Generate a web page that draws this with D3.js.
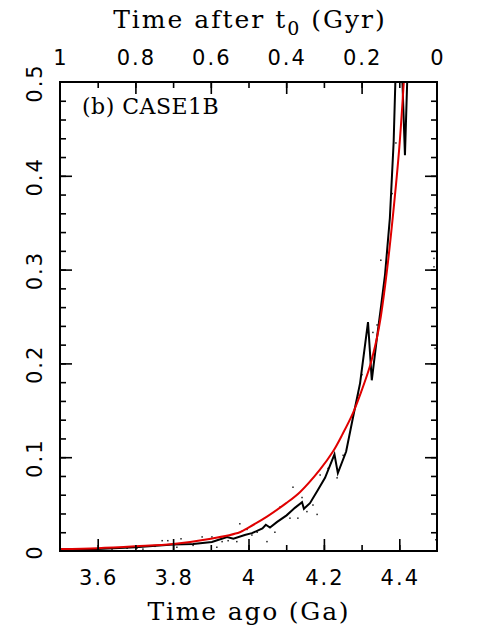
<!DOCTYPE html>
<html>
<head>
<meta charset="utf-8">
<script src="https://cdn.jsdelivr.net/npm/d3@7"></script>
<style>
  body { margin: 0; background: #fff; }
</style>
</head>
<body>
<svg id="chart" width="492" height="630"></svg>
<script>
// red smooth fit (time ago Ga, value)
let fitAgo = [3.5, 3.6, 3.7, 3.8, 3.9, 3.977, 4.0, 4.05, 4.1, 4.137, 4.19, 4.224, 4.25, 4.277, 4.3, 4.322, 4.34, 4.351, 4.367, 4.383, 4.4, 4.412, 4.425];
let fitVal = [0.002, 0.003, 0.005, 0.0075, 0.013, 0.02, 0.025, 0.037, 0.051, 0.063, 0.087, 0.106, 0.125, 0.147, 0.171, 0.197, 0.226, 0.25, 0.298, 0.357, 0.43, 0.5, 0.58];

// black jagged curve
let runAgo = [3.5, 3.6, 3.7, 3.8, 3.853, 3.903, 3.943, 3.96, 3.99, 4.009, 4.037, 4.046, 4.057, 4.076, 4.101, 4.123, 4.142, 4.147, 4.163, 4.184, 4.203, 4.228, 4.237, 4.259, 4.277, 4.296, 4.317, 4.327, 4.34, 4.352, 4.362, 4.375, 4.385, 4.398, 4.415, 4.43];
let runVal = [0.001, 0.002, 0.004, 0.007, 0.0075, 0.0096, 0.015, 0.013, 0.017, 0.019, 0.024, 0.028, 0.025, 0.031, 0.038, 0.046, 0.052, 0.045, 0.051, 0.065, 0.078, 0.103, 0.083, 0.106, 0.142, 0.179, 0.244, 0.182, 0.225, 0.262, 0.294, 0.355, 0.436, 0.62, 0.422, 0.62];

// scattered dots
let dotAgo = [3.638, 3.678, 3.704, 3.72, 3.752, 3.771, 3.786, 3.81, 3.821, 3.853, 3.877, 3.903, 3.916, 3.93, 3.946, 3.969, 3.977, 3.983, 3.996, 4.009, 4.023, 4.049, 4.07, 4.084, 4.11, 4.118, 4.131, 4.142, 4.155, 4.171, 4.182, 4.19, 4.211, 4.235, 4.251, 4.277, 4.29, 4.301, 4.33, 4.341, 4.351, 4.37, 4.381, 4.391, 4.492, 4.492, 4.495, 4.495, 4.497];
let dotVal = [0.002, 0.003, 0.003, 0.002, 0.005, 0.011, 0.011, 0.004, 0.013, 0.006, 0.015, 0.015, 0.004, 0.01, 0.011, 0.01, 0.029, 0.021, 0.023, 0.017, 0.02, 0.01, 0.02, 0.047, 0.035, 0.068, 0.035, 0.057, 0.042, 0.049, 0.039, 0.081, 0.088, 0.078, 0.102, 0.143, 0.166, 0.188, 0.233, 0.241, 0.31, 0.318, 0.381, 0.435, 0.312, 0.303, 0.366, 0.216, 0.012];

// tick labels
let agoLabels = [3.6, 3.8, 4, 4.2, 4.4];
let afterLabels = [1, 0.8, 0.6, 0.4, 0.2, 0];
let valLabels = [0, 0.1, 0.2, 0.3, 0.4, 0.5];

let svg = d3.select("#chart");
let pLeft = 60, pRight = 437, pTop = 82, pBottom = 551;

let x = d3.scaleLinear().domain([3.5, 4.5]).range([pLeft, pRight]);
let xTop = d3.scaleLinear().domain([1, 0]).range([pLeft, pRight]);
let y = d3.scaleLinear().domain([0, 0.5]).range([pBottom, pTop]);

svg.append("clipPath").attr("id", "clip")
  .append("rect").attr("x", pLeft).attr("y", pTop)
  .attr("width", pRight - pLeft).attr("height", pBottom - pTop);

let plot = svg.append("g").attr("clip-path", "url(#clip)");

plot.selectAll("rect.dot")
  .data(dotAgo.map((a, i) => [a, dotVal[i]]))
  .enter().append("rect")
  .attr("class", "dot")
  .attr("x", d => x(d[0]) - 0.75)
  .attr("y", d => y(d[1]) - 0.75)
  .attr("width", 1.5).attr("height", 1.5)
  .attr("fill", "#222");

let line = d3.line().x(d => x(d[0])).y(d => y(d[1]));

plot.append("path")
  .datum(runAgo.map((a, i) => [a, runVal[i]]))
  .attr("d", line)
  .attr("fill", "none").attr("stroke", "#000").attr("stroke-width", 2)
  .attr("stroke-linejoin", "miter");

plot.append("path")
  .datum(fitAgo.map((a, i) => [a, fitVal[i]]))
  .attr("d", line.curve(d3.curveCatmullRom.alpha(0.5)))
  .attr("fill", "none").attr("stroke", "#e00000").attr("stroke-width", 2);

// axes: ticks point inward
let minorAgo = d3.range(3.6, 4.45, 0.1);
let minorAfter = d3.range(0.1, 0.95, 0.1);
let minorVal = d3.range(0.02, 0.49, 0.02);

function tickSet(axisFn, scale, vals, size, g) {
  g.call(axisFn(scale).tickValues(vals).tickSize(size).tickFormat(""))
   .call(s => s.select(".domain").remove())
   .selectAll("line").attr("stroke", "#000").attr("stroke-width", 1.6);
}

let gB = svg.append("g").attr("transform", `translate(0,${pBottom})`);
tickSet(d3.axisBottom, x, minorAgo, -6, gB.append("g"));
tickSet(d3.axisBottom, x, agoLabels, -12, gB.append("g"));

let gT = svg.append("g").attr("transform", `translate(0,${pTop})`);
tickSet(d3.axisTop, xTop, minorAfter, -6, gT.append("g"));
tickSet(d3.axisTop, xTop, [0.8, 0.6, 0.4, 0.2], -12, gT.append("g"));

let gL = svg.append("g").attr("transform", `translate(${pLeft},0)`);
tickSet(d3.axisLeft, y, minorVal, -6, gL.append("g"));
tickSet(d3.axisLeft, y, [0.1, 0.2, 0.3, 0.4], -12, gL.append("g"));

let gR = svg.append("g").attr("transform", `translate(${pRight},0)`);
tickSet(d3.axisRight, y, minorVal, -6, gR.append("g"));
tickSet(d3.axisRight, y, [0.1, 0.2, 0.3, 0.4], -12, gR.append("g"));

svg.append("rect")
  .attr("x", pLeft).attr("y", pTop)
  .attr("width", pRight - pLeft).attr("height", pBottom - pTop)
  .attr("fill", "none").attr("stroke", "#000").attr("stroke-width", 2);

let fmt = d => String(+d.toFixed(1));

function labelStyle(sel) {
  sel.attr("text-anchor", "middle")
    .attr("font-family", "DejaVu Sans").attr("font-size", 21)
    .attr("letter-spacing", 2);
}

svg.append("g").selectAll("text")
  .data(agoLabels).enter().append("text")
  .attr("x", d => x(d) + 1).attr("y", 585)
  .call(labelStyle)
  .text(fmt);

svg.append("g").selectAll("text")
  .data(afterLabels).enter().append("text")
  .attr("x", d => xTop(d) + 1).attr("y", 65)
  .call(labelStyle)
  .text(fmt);

svg.append("g").selectAll("text")
  .data(valLabels).enter().append("text")
  .attr("transform", d => `translate(42,${y(d) + 1}) rotate(-90)`)
  .call(labelStyle)
  .text(fmt);

// titles
let topTitle = svg.append("text")
  .attr("x", 250).attr("y", 28)
  .attr("text-anchor", "middle")
  .attr("font-family", "DejaVu Serif").attr("font-size", 25)
  .attr("letter-spacing", 2);
topTitle.append("tspan").text("Time after t");
topTitle.append("tspan").attr("dy", 7).attr("font-size", 19).text("0");
topTitle.append("tspan").attr("dy", -7).text(" (Gyr)");

svg.append("text")
  .attr("x", 249).attr("y", 620)
  .attr("text-anchor", "middle")
  .attr("font-family", "DejaVu Serif").attr("font-size", 25)
  .attr("letter-spacing", 1.8)
  .text("Time ago (Ga)");

svg.append("text")
  .attr("x", 82).attr("y", 114)
  .attr("font-family", "DejaVu Serif").attr("font-size", 22)
  .attr("letter-spacing", 0.5)
  .text("(b) CASE1B");
</script>
</body>
</html>
